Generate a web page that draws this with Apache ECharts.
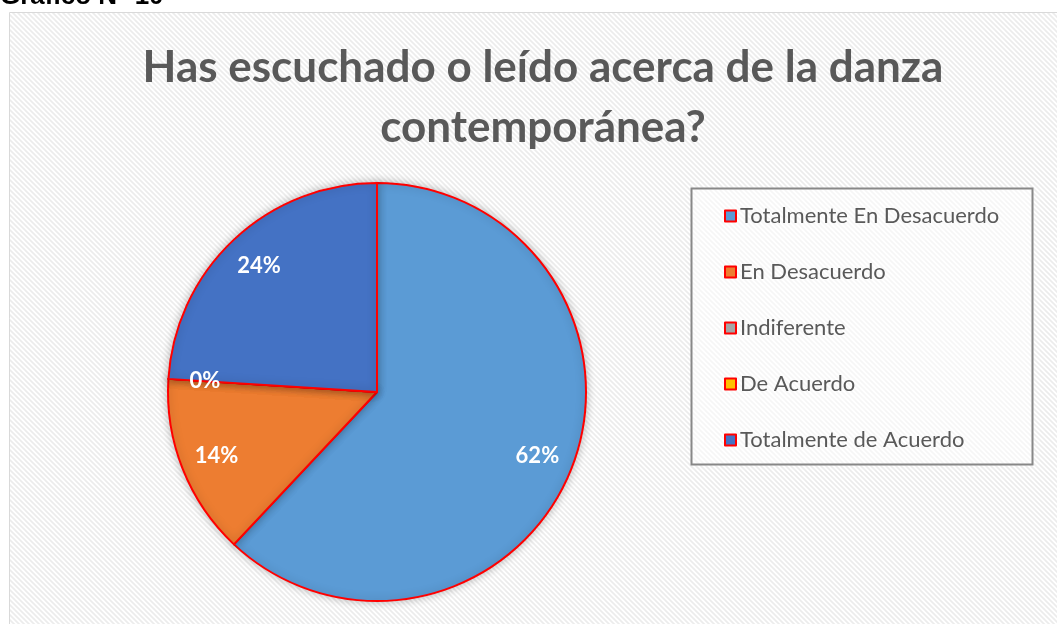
<!DOCTYPE html>
<html>
<head>
<meta charset="utf-8">
<style>
html,body{margin:0;padding:0;background:#fff;}
#chart{width:1057px;height:624px;}
</style>
</head>
<body>
<div id="chart"></div>
<script src="https://cdn.jsdelivr.net/npm/echarts@6/dist/echarts.min.js"></script>
<script type="text/javascript">
	// datos del gráfico
	var categorias = ['Totalmente En Desacuerdo', 'En Desacuerdo', 'Indiferente', 'De Acuerdo', 'Totalmente de Acuerdo'];
	var valores = [62, 14, 0, 0, 24];
	var colores = ['#5B9BD5', '#ED7D31', '#A5A5A5', '#FFC000', '#4472C4'];

	var pieData = [];
	for (var i = 0; i < categorias.length; i++) {
		pieData.push({ name: categorias[i], value: valores[i], itemStyle: { color: colores[i] } });
	}
	var labelData = [];
	for (var i = 0; i < categorias.length; i++) {
		labelData.push({ name: categorias[i], value: valores[i] });
	}

	// fondo rayado
	var rayas = document.createElement('canvas');
	rayas.width = 5; rayas.height = 5;
	var c = rayas.getContext('2d');
	c.fillStyle = '#ffffff';
	c.fillRect(0, 0, 5, 5);
	c.strokeStyle = '#ececec';
	c.lineWidth = 1.6;
	c.beginPath();
	c.moveTo(-1, -1); c.lineTo(6, 6);
	c.moveTo(-1, 4); c.lineTo(1, 6);
	c.moveTo(4, -1); c.lineTo(6, 1);
	c.stroke();

	var chart = echarts.init(document.getElementById('chart'));
	var font = 'Lato, "Open Sans", sans-serif';
	var option = {
		backgroundColor: '#ffffff',
		animation: false,
		title: {
			text: 'Has escuchado o leído acerca de la danza\ncontemporánea?',
			left: 538,
			textAlign: 'center',
			top: 33,
			textStyle: { fontFamily: font, fontSize: 44, fontWeight: 'bold', color: '#595959', lineHeight: 60 }
		},
		graphic: [
			{ type: 'rect', z: -10, shape: { x: 9.5, y: 12.5, width: 1070, height: 630 },
			  style: { fill: { image: rayas, repeat: 'repeat' }, stroke: '#d9d9d9', lineWidth: 1 } },
			{ type: 'text', z: 10, left: 0, top: -16,
			  style: { text: 'Gráfico N° 10', font: 'bold 26px "Liberation Sans", Arial, sans-serif', fill: '#000' } },
			{ type: 'rect', z: -5, shape: { x: 691.5, y: 188.5, width: 341, height: 276 },
			  style: { fill: 'rgba(255,255,255,0.5)', stroke: '#888888', lineWidth: 2 } }
		],
		legend: {
			orient: 'vertical',
			left: 719,
			top: 200,
			icon: 'rect',
			itemWidth: 11,
			itemHeight: 11,
			itemGap: 34,
			data: categorias,
			itemStyle: { borderColor: '#ff0000', borderWidth: 2 },
			textStyle: { fontFamily: font, fontSize: 22, color: '#595959', padding: [0, 0, 0, -1] }
		},
		series: [
			{
				type: 'pie',
				center: [377, 392],
				radius: 209,
				startAngle: 90,
				clockwise: true,
				silent: true,
				label: { show: false },
				labelLine: { show: false },
				itemStyle: { borderColor: '#ff0000', borderWidth: 2, shadowBlur: 8, shadowColor: 'rgba(0,0,0,0.25)' },
				data: pieData
			},
			{
				type: 'pie',
				center: [377, 392],
				radius: [130, 209],
				startAngle: 90,
				clockwise: true,
				silent: true,
				itemStyle: { color: 'transparent', borderWidth: 0 },
				label: {
					show: true,
					position: 'inside',
					formatter: '{d}%',
					fontFamily: font,
					fontSize: 22,
					fontWeight: 'bold',
					color: '#ffffff'
				},
				labelLine: { show: false },
				data: labelData
			}
		]
	};
	chart.setOption(option);
</script>
</body>
</html>
